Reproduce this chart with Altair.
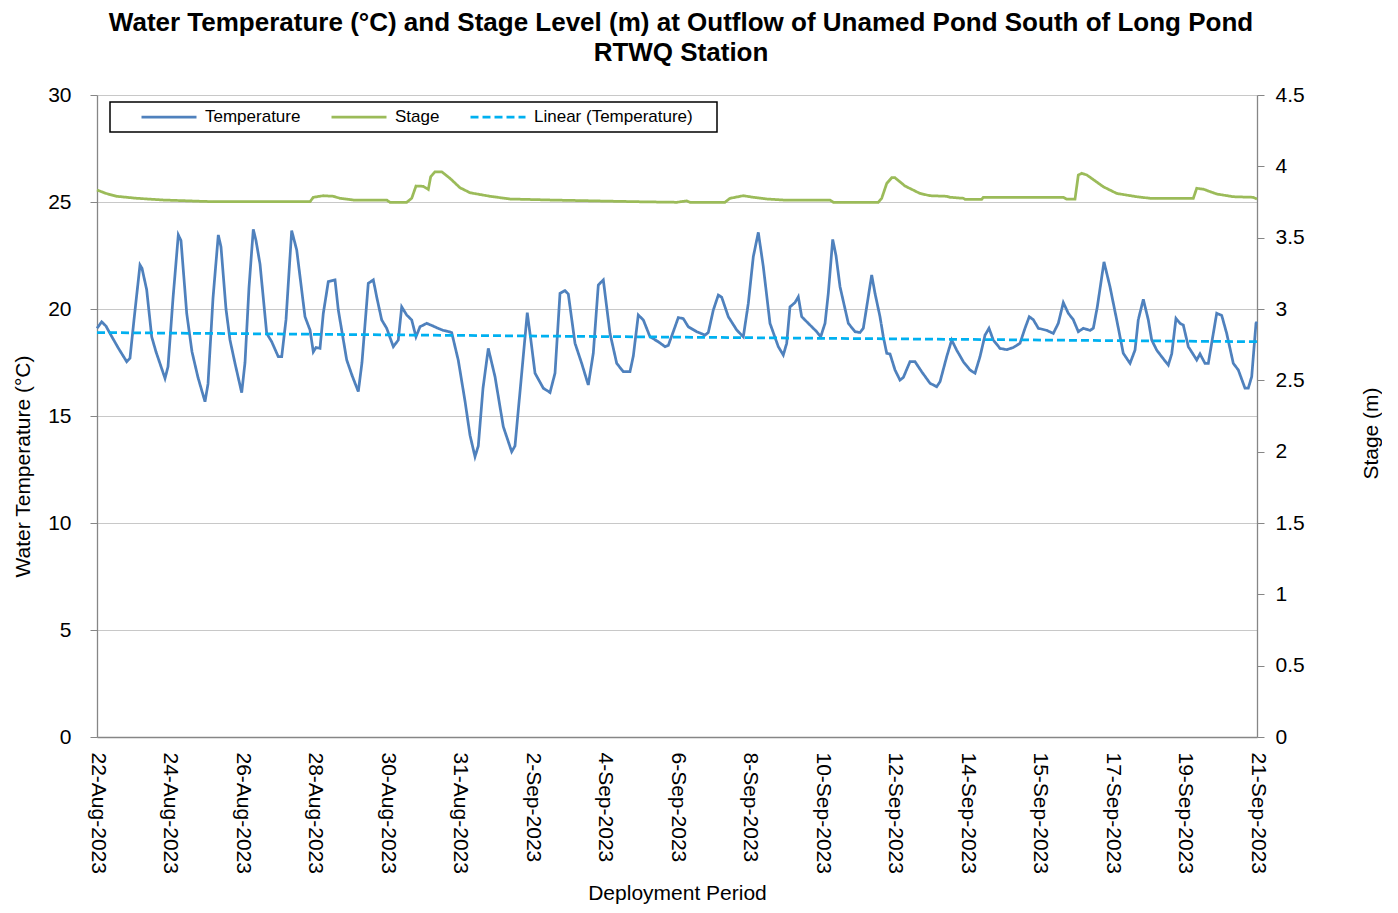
import altair as alt
import pandas as pd

FONT = "Liberation Sans"

# ---- series definitions ----
series_names = ["Temperature", "Stage", "Linear (Temperature)"]
series_colors = ["#4F81BD", "#9BBB59", "#00B0F0"]
series_dash = [[1, 0], [1, 0], [8, 4]]

# ---- water temperature (days since start of deployment, deg C) ----
temp_day = [
    0.000, 0.122, 0.233, 0.336, 0.543, 0.768, 0.853, 0.957, 1.112, 1.164,
    1.285, 1.415, 1.526, 1.759, 1.836, 1.966, 2.103, 2.172, 2.320, 2.457,
    2.612, 2.793, 2.871, 3.000, 3.137, 3.207, 3.336, 3.440, 3.569, 3.742,
    3.828, 3.931, 4.042, 4.112, 4.216, 4.389, 4.518, 4.689, 4.777, 4.888,
    5.035, 5.165, 5.379, 5.509, 5.594, 5.664, 5.767, 5.853, 5.982, 6.155,
    6.241, 6.458, 6.595, 6.758, 6.853, 7.016, 7.146, 7.241, 7.363, 7.492,
    7.663, 7.792, 7.880, 8.009, 8.139, 8.250, 8.353, 8.527, 8.697, 8.819,
    8.956, 9.078, 9.173, 9.344, 9.517, 9.647, 9.776, 9.861, 9.983, 10.120,
    10.293, 10.508, 10.725, 10.810, 10.984, 11.128, 11.224, 11.328, 11.542, 11.716,
    11.845, 11.974, 12.103, 12.189, 12.362, 12.535, 12.706, 12.835, 12.965, 13.094,
    13.267, 13.441, 13.611, 13.784, 13.870, 13.999, 14.129, 14.302, 14.516, 14.690,
    14.775, 14.904, 15.034, 15.163, 15.292, 15.509, 15.724, 15.809, 15.939, 16.068,
    16.156, 16.327, 16.544, 16.715, 16.844, 16.973, 17.103, 17.232, 17.405, 17.620,
    17.749, 17.837, 17.922, 18.052, 18.137, 18.225, 18.440, 18.613, 18.716, 18.828,
    18.913, 19.027, 19.112, 19.216, 19.431, 19.604, 19.733, 19.818, 19.906, 20.035,
    20.121, 20.250, 20.336, 20.424, 20.509, 20.638, 20.767, 20.853, 21.026, 21.155,
    21.328, 21.543, 21.716, 21.802, 21.975, 22.104, 22.233, 22.404, 22.578, 22.707,
    22.836, 22.966, 23.069, 23.180, 23.353, 23.526, 23.697, 23.871, 24.000, 24.111,
    24.215, 24.344, 24.561, 24.732, 24.861, 24.991, 25.120, 25.249, 25.379, 25.508,
    25.681, 25.767, 25.870, 26.043, 26.198, 26.372, 26.542, 26.716, 26.845, 26.930,
    27.060, 27.189, 27.277, 27.406, 27.535, 27.706, 27.794, 27.905, 28.009, 28.094,
    28.224, 28.441, 28.526, 28.655, 28.741, 28.870, 28.958, 29.087, 29.216, 29.387,
    29.517, 29.689, 29.775, 29.863, 29.974, 30.000,
]
temp_c = [
    19.10, 19.40, 19.20, 18.86, 18.20, 17.54, 17.70, 19.50, 22.06, 21.90,
    20.90, 18.70, 18.00, 16.76, 17.30, 20.50, 23.46, 23.20, 19.80, 18.00,
    16.80, 15.67, 16.50, 20.50, 23.46, 22.90, 20.00, 18.55, 17.46, 16.09,
    17.50, 21.00, 23.72, 23.20, 22.10, 18.86, 18.47, 17.77, 17.77, 19.50,
    23.66, 22.76, 19.64, 19.02, 18.00, 18.20, 18.16, 19.80, 21.28, 21.36,
    19.95, 17.62, 16.90, 16.14, 17.50, 21.20, 21.36, 20.50, 19.49, 19.10,
    18.24, 18.55, 20.10, 19.72, 19.49, 18.70, 19.17, 19.33, 19.20, 19.10,
    19.00, 18.95, 18.90, 17.60, 15.70, 14.10, 13.10, 13.60, 16.30, 18.16,
    16.84, 14.50, 13.33, 13.60, 17.00, 19.83, 18.50, 17.00, 16.30, 16.10,
    17.00, 20.73, 20.86, 20.70, 18.40, 17.46, 16.45, 17.93, 21.12, 21.36,
    18.86, 17.46, 17.07, 17.07, 17.80, 19.72, 19.49, 18.70, 18.47, 18.24,
    18.30, 18.94, 19.60, 19.55, 19.17, 18.94, 18.78, 18.90, 19.95, 20.65,
    20.55, 19.64, 19.02, 18.70, 20.26, 22.44, 23.58, 21.98, 19.33, 18.24,
    17.85, 18.40, 20.10, 20.30, 20.57, 19.64, 19.25, 18.94, 18.70, 19.33,
    20.73, 23.25, 22.50, 21.04, 19.33, 18.94, 18.90, 19.10, 20.10, 21.59,
    20.73, 19.64, 18.70, 17.93, 17.90, 17.15, 16.68, 16.80, 17.54, 17.54,
    17.07, 16.53, 16.37, 16.60, 17.77, 18.55, 18.08, 17.54, 17.15, 17.00,
    17.77, 18.78, 19.10, 18.55, 18.16, 18.10, 18.20, 18.40, 19.10, 19.64,
    19.50, 19.10, 19.00, 18.86, 19.33, 20.30, 19.80, 19.50, 18.94, 19.10,
    19.00, 19.10, 20.10, 22.20, 21.04, 19.49, 17.93, 17.46, 18.08, 19.50,
    20.45, 19.49, 18.55, 18.08, 17.77, 17.38, 17.90, 19.56, 19.33, 19.25,
    18.24, 17.62, 17.90, 17.46, 17.46, 18.86, 19.80, 19.70, 18.86, 17.46,
    17.15, 16.30, 16.30, 16.84, 19.33, 19.40,
]

# ---- stage level (days since start, m) ----
stage_day = [
    0.000, 0.233, 0.509, 1.027, 1.715, 3.008, 5.509, 5.594, 5.853, 6.111,
    6.284, 6.628, 7.492, 7.578, 8.009, 8.139, 8.250, 8.439, 8.568, 8.630,
    8.741, 8.915, 9.129, 9.388, 9.647, 10.164, 10.681, 11.716, 13.958, 14.992,
    15.251, 15.336, 16.241, 16.371, 16.715, 16.973, 17.320, 17.749, 18.957, 19.042,
    20.206, 20.294, 20.424, 20.553, 20.638, 20.897, 21.284, 21.543, 21.975, 22.060,
    22.404, 22.448, 22.880, 22.921, 24.991, 25.078, 25.293, 25.379, 25.466, 25.595,
    26.025, 26.372, 26.889, 27.233, 28.353, 28.441, 28.611, 28.958, 29.387, 29.905,
    30.000,
]
stage_m = [
    3.834, 3.810, 3.790, 3.776, 3.764, 3.752, 3.752, 3.783, 3.794, 3.790,
    3.776, 3.764, 3.764, 3.748, 3.748, 3.776, 3.862, 3.860, 3.838, 3.927,
    3.962, 3.962, 3.916, 3.850, 3.815, 3.790, 3.771, 3.764, 3.752, 3.748,
    3.758, 3.748, 3.748, 3.776, 3.794, 3.783, 3.771, 3.764, 3.764, 3.748,
    3.748, 3.776, 3.880, 3.920, 3.920, 3.862, 3.810, 3.794, 3.790, 3.783,
    3.776, 3.769, 3.769, 3.783, 3.783, 3.770, 3.770, 3.939, 3.951, 3.940,
    3.857, 3.810, 3.787, 3.776, 3.776, 3.846, 3.840, 3.806, 3.787, 3.783,
    3.770,
]

# ---- linear trend of temperature (end points) ----
trend_day = [0.0, 30.0]
trend_c = [18.90, 18.47]

# ---- axis ticks ----
tick_step = 1.875
tick_days = [i * tick_step for i in range(17)]
tick_labels = [
    "22-Aug-2023", "24-Aug-2023", "26-Aug-2023", "28-Aug-2023", "30-Aug-2023",
    "31-Aug-2023", "2-Sep-2023", "4-Sep-2023", "6-Sep-2023", "8-Sep-2023",
    "10-Sep-2023", "12-Sep-2023", "14-Sep-2023", "15-Sep-2023", "17-Sep-2023",
    "19-Sep-2023", "21-Sep-2023",
]
temp_ticks = [0, 5, 10, 15, 20, 25, 30]
stage_ticks = [0, 0.5, 1, 1.5, 2, 2.5, 3, 3.5, 4, 4.5]

temp_df = pd.DataFrame({"day": temp_day, "value": temp_c, "series": series_names[0]})
stage_df = pd.DataFrame({"day": stage_day, "value": stage_m, "series": series_names[1]})
trend_df = pd.DataFrame({"day": trend_day, "value": trend_c, "series": series_names[2]})

label_expr = "[" + ",".join("'" + s + "'" for s in tick_labels) + "][round(datum.value / %s)]" % tick_step

# trailing no-break spaces (kept by a zero-width char) widen the framed legend like the original
legend_label_expr = (
    "indexof(datum.label, 'Linear') >= 0 ? datum.label + '\u00a0\u00a0\u00a0\u00a0\u200b' : datum.label"
)
legend = alt.Legend(
    orient="none", legendX=13, legendY=7, direction="horizontal",
    title="\u00a0", titleOrient="left", titleFontSize=1, titlePadding=25,
    symbolType="stroke", symbolSize=3025, symbolStrokeWidth=2.75, clipHeight=20,
    labelFontSize=17, labelFont=FONT, labelColor="#000000", labelOffset=7,
    labelExpr=legend_label_expr,
    columnPadding=29, padding=5, strokeColor="#000000", fillColor="#FFFFFF",
    labelLimit=400,
)
color = alt.Color("series:N", scale=alt.Scale(domain=series_names, range=series_colors), legend=legend)
dash = alt.StrokeDash("series:N", scale=alt.Scale(domain=series_names, range=series_dash), legend=legend)

x_enc = alt.X(
    "day:Q",
    scale=alt.Scale(domain=[0, 30], nice=False, zero=False),
    axis=alt.Axis(
        values=tick_days, labelExpr=label_expr, labelAngle=90, labelAlign="left",
        labelBaseline="middle", labelFontSize=21, labelPadding=15, ticks=False,
        grid=False, labelOverlap=False, title="Deployment Period",
        titleFontSize=21, titleFontWeight="normal", titleBaseline="alphabetic",
        titleY=162,
    ),
)
temp_scale = alt.Scale(domain=[0, 30], nice=False, zero=True)
left_axis = alt.Axis(
    values=temp_ticks, grid=True, tickSize=7, labelFontSize=21, labelPadding=19,
    title="Water Temperature (\u00b0C)", titleFontSize=21, titleFontWeight="normal",
    titleX=-68, titleY=371, titleBaseline="alphabetic", titleAngle=270,
)
right_axis = alt.Axis(
    values=stage_ticks, grid=False, tickSize=7, labelFontSize=21, labelPadding=11,
    format="~g", title="Stage (m)", titleFontSize=21, titleFontWeight="normal",
    titleX=120, titleY=338, titleBaseline="alphabetic", titleAngle=270, orient="right",
)

temp_line = alt.Chart(temp_df).mark_line(strokeWidth=2.75).encode(
    x=x_enc, y=alt.Y("value:Q", scale=temp_scale, axis=left_axis), color=color, strokeDash=dash,
)
trend_line = alt.Chart(trend_df).mark_line(strokeWidth=2.75).encode(
    x=x_enc, y=alt.Y("value:Q", scale=temp_scale, axis=left_axis), color=color, strokeDash=dash,
)
stage_line = alt.Chart(stage_df).mark_line(strokeWidth=2.75).encode(
    x=x_enc, y=alt.Y("value:Q", scale=alt.Scale(domain=[0, 4.5], nice=False, zero=True), axis=right_axis),
    color=color, strokeDash=dash,
)

chart = (
    alt.layer(alt.layer(temp_line, trend_line), stage_line)
    .resolve_scale(y="independent")
    .properties(
        width=1160, height=642,
        autosize=alt.AutoSizeParams(type="none"),
        padding={"left": 89, "top": 87, "right": 125, "bottom": 167},
        title=alt.TitleParams(
            text=[
                "Water Temperature (\u00b0C) and Stage Level (m) at Outflow of Unamed Pond South of Long Pond",
                "RTWQ Station",
            ],
            font=FONT, fontSize=26, fontWeight="bold", color="#000000",
            anchor="middle", frame="group", lineHeight=30, offset=18, dx=4,
        ),
    )
    .configure_view(stroke=None)
    .configure_axis(
        labelFont=FONT, titleFont=FONT, labelColor="#000000", titleColor="#000000",
        domainColor="#868686", tickColor="#868686", gridColor="#C8C8C8", domainWidth=1.3,
    )
    .configure_legend(strokeWidth=1.5)
)

chart.save("out.html", embed_options={"renderer": "svg", "actions": False})
